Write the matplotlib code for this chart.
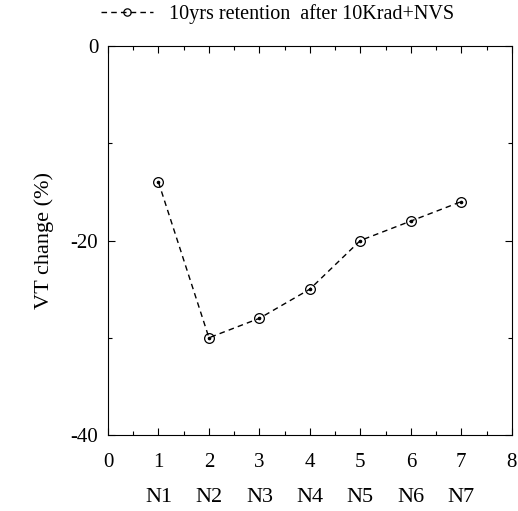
import numpy as np
import matplotlib
matplotlib.use('Agg')
import matplotlib.pyplot as plt
from matplotlib.ticker import MultipleLocator

plt.rcParams['font.family'] = ['Liberation Serif', 'DejaVu Serif']

x = [1, 2, 3, 4, 5, 6, 7]
vt_change = [-14, -30, -28, -25, -20, -18, -16]
node_labels = ['N1', 'N2', 'N3', 'N4', 'N5', 'N6', 'N7']

fig = plt.figure(figsize=(5.18, 5.11), dpi=100)
ax = fig.add_axes([0.2085, 0.1487, 0.7795, 0.7613])

ax.plot(x, vt_change, color='black', linestyle='--', linewidth=1, dashes=(4, 3),
        marker='o', markersize=7, markerfacecolor='none', markeredgecolor='black',
        markeredgewidth=0.9, label='10yrs retention  after 10Krad+NVS')
ax.plot(x, vt_change, linestyle='none', marker='o', markersize=1.6, color='black')

ax.set_xlim(0, 8)
ax.set_ylim(-40, 0)
ax.set_xticks(range(0, 9))
ax.set_yticks([-40, -20, 0])
ax.xaxis.set_minor_locator(MultipleLocator(0.5))
ax.yaxis.set_minor_locator(MultipleLocator(10))
ax.tick_params(which='both', direction='in', top=True, right=True, labelsize=15)
ax.tick_params(axis='x', pad=13)
ax.tick_params(axis='y', pad=7)
ax.tick_params(which='major', length=5, width=0.8)
ax.tick_params(which='minor', length=3, width=0.8)
ax.set_yticklabels(['-40', '-20', '0'])

for xi, lab in zip(x, node_labels):
    ax.text(xi, -0.16, lab, transform=ax.get_xaxis_transform(), ha='center', va='center', fontsize=16)

ax.set_ylabel('VT change (%)', fontsize=16, labelpad=12)

ax.legend(loc='lower center', bbox_to_anchor=(0.42, 1.035), frameon=False, fontsize=14.5,
          handlelength=2.6, handletextpad=0.8, borderaxespad=0, markerscale=0.75)

fig.savefig('out.png', dpi=100)
